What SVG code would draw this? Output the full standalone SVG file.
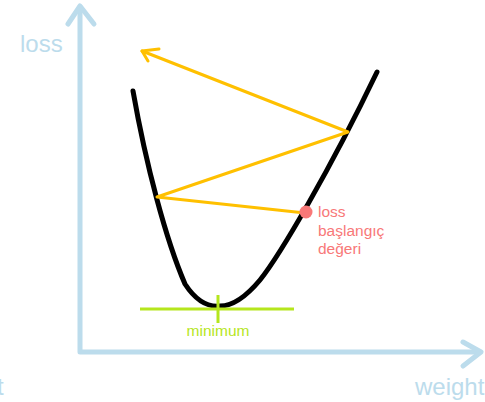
<svg xmlns="http://www.w3.org/2000/svg" width="485" height="402" viewBox="0 0 485 402">
<style>
.axis{fill:none;stroke:#bcdcec;stroke-width:5;stroke-linecap:round;stroke-linejoin:round}
.axt{fill:#bcdcec;font-family:"Liberation Sans",Arial,sans-serif;font-size:24px}
.step{fill:none;stroke:#ffc000;stroke-width:3;stroke-linecap:round;stroke-linejoin:round}
.min{fill:none;stroke:#b5e61d;stroke-width:3}
.mint{fill:#b5e61d;font-family:"Liberation Sans",Arial,sans-serif;font-size:15.5px}
.red{fill:#f87878;font-family:"Liberation Sans",Arial,sans-serif;font-size:15.5px}
</style>
<rect width="485" height="402" fill="#ffffff"/>
<g id="axes">
<polyline class="axis" points="80,7 80,352 480,352"/>
<polyline class="axis" points="68,24 80,6 94,24"/>
<polyline class="axis" points="463,342 481,352 463,366"/>
<text class="axt" x="20" y="52">loss</text>
<text class="axt" x="415" y="395">weight</text>
<text class="axt" x="-3" y="395">t</text>
</g>
<g id="curve">
<path d="M133,91 C146,165 166,240 185,284 C198,304 210,307 220,306 C232,306 245,298 260,280 C280,255 330,170 377,72" fill="none" stroke="#000" stroke-width="5" stroke-linecap="round"/>
</g>
<g id="minimum">
<line class="min" x1="140" y1="309" x2="294" y2="309"/>
<line class="min" x1="218" y1="295" x2="218" y2="323"/>
<text class="mint" x="218" y="336" text-anchor="middle">minimum</text>
</g>
<g id="connectors">
<polyline class="step" points="305,213 157,197 348,132 142,51"/>
<polyline class="step" points="159,49 142,51 148,61"/>
</g>
<g id="start">
<circle cx="306" cy="212" r="6.5" fill="#f87878"/>
<text class="red" x="318" y="217">loss</text>
<text class="red" x="318" y="235.5">başlangıç</text>
<text class="red" x="318" y="254">değeri</text>
</g>
</svg>
